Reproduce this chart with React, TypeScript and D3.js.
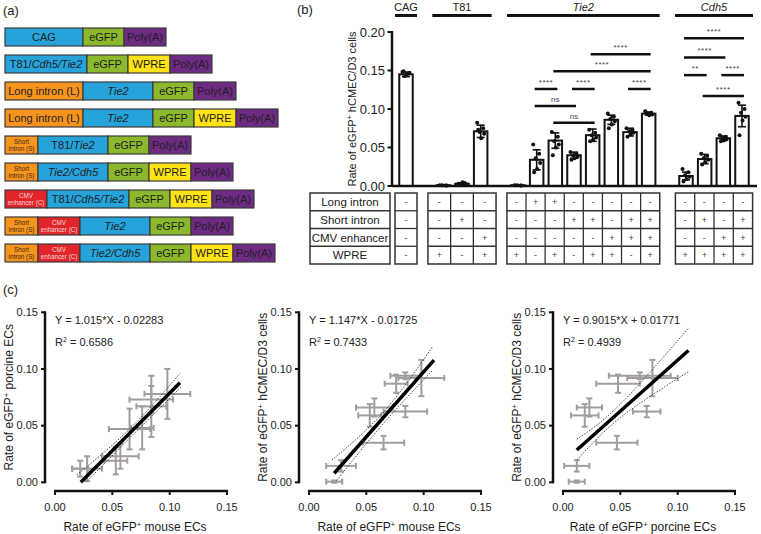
import React from 'react';
import * as d3 from 'd3';

const FONT = '"Liberation Sans", Arial, Helvetica, sans-serif';

// ---------------- Panel (a): constructs ----------------
const constructRows: string[][] = [
  ['CAG', 'eGFP', 'PolyA'],
  ['T81/Cdh5/Tie2', 'eGFP', 'WPRE', 'PolyA'],
  ['Long', 'Tie2', 'eGFP', 'PolyA'],
  ['Long', 'Tie2', 'eGFP', 'WPRE', 'PolyA'],
  ['Short', 'T81/Tie2', 'eGFP', 'PolyA'],
  ['Short', 'Tie2/Cdh5', 'eGFP', 'WPRE', 'PolyA'],
  ['CMV', 'T81/Cdh5/Tie2', 'eGFP', 'WPRE', 'PolyA'],
  ['Short', 'CMV', 'Tie2', 'eGFP', 'PolyA'],
  ['Short', 'CMV', 'Tie2/Cdh5', 'eGFP', 'WPRE', 'PolyA'],
];

const elementWidth: Record<string, number> = {
  CAG: 78, 'T81/Cdh5/Tie2': 82, Long: 78, Tie2: 70, Short: 33, 'T81/Tie2': 70,
  'Tie2/Cdh5': 70, CMV: 42, eGFP: 41, WPRE: 42, PolyA: 42,
};
const elementFill: Record<string, string> = {
  CAG: '#27a3dc', 'T81/Cdh5/Tie2': '#27a3dc', Tie2: '#27a3dc', 'T81/Tie2': '#27a3dc', 'Tie2/Cdh5': '#27a3dc',
  Long: '#f7941e', Short: '#f7941e', CMV: '#e2242b', eGFP: '#8cb82b', WPRE: '#ffe316', PolyA: '#6e2b83',
};

// ---------------- Panel (b): bar chart ----------------
const groupNames = ['CAG', 'T81', 'Tie2', 'Cdh5'];
const groupItalic = [false, false, true, true];
const groupColWidth = [22, 22.7, 19.1, 19.3];
const barGroup = [0, 1, 1, 1, 2, 2, 2, 2, 2, 2, 2, 2, 3, 3, 3, 3];
const barSlot = [0, 2, 3, 4, 6, 7, 8, 9, 10, 11, 12, 13, 15, 16, 17, 18];
const barMean = [0.145, 0.001, 0.003, 0.071, 0.001, 0.034, 0.059, 0.040, 0.066, 0.086, 0.070, 0.094, 0.013, 0.035, 0.062, 0.091];
const barSD = [0.003, 0.0005, 0.001, 0.008, 0.0005, 0.013, 0.010, 0.004, 0.008, 0.006, 0.005, 0.002, 0.005, 0.006, 0.003, 0.014];
const barDots: number[][] = [
  [0.148, 0.146, 0.143, 0.147, 0.144, 0.149],
  [0.001, 0.0005, 0.001, 0.0008],
  [0.003, 0.004, 0.002, 0.003, 0.005, 0.002],
  [0.082, 0.075, 0.070, 0.068, 0.062, 0.073],
  [0.001, 0.0005, 0.001, 0.0008],
  [0.054, 0.042, 0.036, 0.030, 0.022, 0.018],
  [0.070, 0.064, 0.058, 0.054, 0.050, 0.040],
  [0.044, 0.042, 0.040, 0.038, 0.036, 0.034],
  [0.073, 0.069, 0.066, 0.063, 0.060, 0.058],
  [0.094, 0.090, 0.087, 0.084, 0.080, 0.075],
  [0.075, 0.073, 0.071, 0.069, 0.067, 0.064],
  [0.097, 0.095, 0.094, 0.093, 0.092],
  [0.022, 0.018, 0.014, 0.012, 0.009, 0.006],
  [0.042, 0.039, 0.036, 0.034, 0.031, 0.028],
  [0.066, 0.064, 0.062, 0.061, 0.059, 0.058],
  [0.108, 0.100, 0.095, 0.090, 0.085, 0.066],
];
const yTicksB = [0, 0.05, 0.1, 0.15, 0.2];
// significance: [barA, barB, level, label]
const sigA = [8, 6, 5, 7, 10, 5, 6, 12, 12, 12, 14, 13];
const sigB = [11, 11, 6, 8, 11, 7, 8, 15, 14, 13, 15, 15];
const sigLevel = [0.171, 0.149, 0.126, 0.126, 0.126, 0.104, 0.082, 0.192, 0.167, 0.144, 0.144, 0.117];
const sigLabel = ['****', '****', '****', '****', '****', 'ns', 'ns', '****', '****', '**', '****', '****'];

const tableRowLabels = ['Long intron', 'Short intron', 'CMV enhancer', 'WPRE'];
const tableLong = ['-', '-', '-', '-', '-', '+', '+', '-', '-', '-', '-', '-', '-', '-', '-', '-'];
const tableShort = ['-', '-', '+', '-', '-', '-', '-', '+', '+', '-', '+', '+', '-', '+', '-', '+'];
const tableCMV = ['-', '-', '-', '+', '-', '-', '-', '-', '-', '+', '+', '+', '-', '-', '+', '+'];
const tableWPRE = ['-', '+', '-', '+', '+', '-', '+', '-', '+', '+', '-', '+', '+', '+', '+', '+'];
const tableRows = [tableLong, tableShort, tableCMV, tableWPRE];

// ---------------- Panel (c): scatter plots ----------------
const mouseRate = [0.022, 0.028, 0.065, 0.053, 0.057, 0.084, 0.076, 0.084, 0.098];
const mouseErr = [0.007, 0.013, 0.018, 0.010, 0.016, 0.019, 0.010, 0.013, 0.020];
const porcineRate = [0.012, 0.012, 0.047, 0.019, 0.023, 0.073, 0.048, 0.067, 0.078];
const porcineErr = [0.007, 0.011, 0.018, 0.012, 0.011, 0.012, 0.019, 0.027, 0.022];
const humanRate = [0.0006, 0.0145, 0.035, 0.059, 0.066, 0.0624, 0.087, 0.094, 0.092];
const humanErr = [0.001, 0.005, 0.006, 0.010, 0.008, 0.005, 0.008, 0.003, 0.016];

const fitSlope = [1.015, 1.147, 0.9015];
const fitIntercept = [-0.02283, -0.01725, 0.01771];
const fitXStart = [0.0225, 0.022, 0.012];
const fitXEnd = [0.109, 0.109, 0.1094];
const fitEquation = ['Y = 1.015*X - 0.02283', 'Y = 1.147*X - 0.01725', 'Y = 0.9015*X + 0.01771'];
const fitR2 = ['0.6586', '0.7433', '0.4939'];
const bandUpperX = [[0.019, 0.065, 0.109], [0.020, 0.065, 0.108], [0.012, 0.05, 0.1094]];
const bandUpperY = [[0.0065, 0.047, 0.096], [0.0197, 0.062, 0.120], [0.038, 0.069, 0.136]];
const bandLowerX = [[0.0276, 0.065, 0.110], [0.024, 0.065, 0.108], [0.0123, 0.05, 0.1094]];
const bandLowerY = [[0.0006, 0.039, 0.084], [0.0015, 0.052, 0.099], [0.0197, 0.057, 0.0976]];
const scatterXName = ['mouse ECs', 'mouse ECs', 'porcine ECs'];
const scatterYName = ['porcine ECs', 'hCMEC/D3 cells', 'hCMEC/D3 cells'];
const scatterTicks = [0, 0.05, 0.1, 0.15];

function ElementLabel({ id, cx, cy }: { id: string; cx: number; cy: number }) {
  const base = { fontFamily: FONT, textAnchor: 'middle' as const, fill: '#1e1e1e' };
  if (id === 'Short' || id === 'CMV') {
    const l1 = id === 'Short' ? 'Short' : 'CMV';
    const l2 = id === 'Short' ? 'intron (S)' : 'enhancer (C)';
    const col = id === 'Short' ? '#3a2a10' : '#f6d9d9';
    return (
      <text {...base} fill={col} fontSize={6.3} x={cx} y={cy - 1}>
        <tspan x={cx} dy={0}>{l1}</tspan>
        <tspan x={cx} dy={7}>{l2}</tspan>
      </text>
    );
  }
  const y = cy + 4;
  if (id === 'CAG') return <text {...base} fontSize={11} x={cx} y={y}>CAG</text>;
  if (id === 'Long') return <text {...base} fontSize={11} x={cx} y={y}>Long intron (L)</text>;
  if (id === 'eGFP') return <text {...base} fontSize={11} x={cx} y={y}>eGFP</text>;
  if (id === 'WPRE') return <text {...base} fontSize={11} x={cx} y={y}>WPRE</text>;
  if (id === 'PolyA') return <text {...base} fontSize={11} x={cx} y={y}>Poly(A)</text>;
  if (id === 'Tie2' || id === 'Tie2/Cdh5') return <text {...base} fontSize={11} fontStyle="italic" x={cx} y={y}>{id}</text>;
  if (id === 'T81/Cdh5/Tie2')
    return (<text {...base} fontSize={11} x={cx} y={y}>T81/<tspan fontStyle="italic">Cdh5/Tie2</tspan></text>);
  if (id === 'T81/Tie2')
    return (<text {...base} fontSize={11} x={cx} y={y}>T81/<tspan fontStyle="italic">Tie2</tspan></text>);
  return null;
}

function PanelA() {
  const rowY = d3.scaleLinear().domain([0, 8]).range([28, 244]);
  const h = 18;
  return (
    <g>
      <text x={3} y={15} fontFamily={FONT} fontSize={13} fill="#222">(a)</text>
      {constructRows.map((row, ri) => {
        let x = 5;
        const y = rowY(ri);
        return (
          <g key={ri}>
            {row.map((id, ei) => {
              const w = elementWidth[id];
              const x0 = x;
              x += w;
              return (
                <g key={ei}>
                  <rect x={x0} y={y} width={w} height={h} fill={elementFill[id]} stroke="#3b3b3b" strokeWidth={1.2} />
                  <ElementLabel id={id} cx={x0 + w / 2} cy={y + h / 2} />
                </g>
              );
            })}
          </g>
        );
      })}
    </g>
  );
}

function PanelB() {
  const x = d3.scaleLinear().domain([0, 18]).range([406, 742]);
  const y = d3.scaleLinear().domain([0, 0.2]).range([186, 32]);
  const bw = 13.5;
  const jitter = [-3.5, 2.5, -1, 3.5, 0.5, -2.5];
  const groups = groupNames.map((name, gi) => {
    const slots = barSlot.filter((_, i) => barGroup[i] === gi);
    const idx = barSlot.map((_, i) => i).filter((i) => barGroup[i] === gi);
    return { name, gi, slots, idx, x0: x(slots[0]), x1: x(slots[slots.length - 1]) };
  });
  const tTop = 193;
  const rh = 17.75;
  return (
    <g fontFamily={FONT}>
      <text x={297} y={14} fontSize={13} fill="#222">(b)</text>
      {/* group headers */}
      {groups.map((g) => (
        <g key={g.name}>
          <line x1={g.x0 - 11} x2={g.x1 + 11} y1={15.5} y2={15.5} stroke="#111" strokeWidth={3} />
          <text x={(g.x0 + g.x1) / 2} y={10.5} fontSize={11} textAnchor="middle" fill="#222"
            fontStyle={groupItalic[g.gi] ? 'italic' : 'normal'}>{g.name}</text>
        </g>
      ))}
      {/* y axis */}
      <line x1={392} x2={392} y1={y(0.2) - 1} y2={y(0) + 1} stroke="#111" strokeWidth={2.5} />
      {yTicksB.map((t) => (
        <g key={t}>
          <line x1={387.5} x2={392} y1={y(t)} y2={y(t)} stroke="#111" strokeWidth={2} />
          <text x={385} y={y(t)} dy="0.35em" fontSize={13} textAnchor="end" fill="#222">{t.toFixed(2)}</text>
        </g>
      ))}
      <text transform={`translate(356,${(y(0) + y(0.2)) / 2}) rotate(-90)`} fontSize={11} textAnchor="middle" fill="#222">
        Rate of eGFP<tspan dy={-4} fontSize={7}>+</tspan><tspan dy={4}> hCMEC/D3 cells</tspan>
      </text>
      {/* bars */}
      {barMean.map((m, i) => {
        const cx = x(barSlot[i]);
        return (
          <g key={i}>
            <rect x={cx - bw / 2} y={y(m)} width={bw} height={y(0) - y(m)} fill="#fff" stroke="#111" strokeWidth={2} />
            <line x1={cx} x2={cx} y1={y(m + barSD[i])} y2={y(Math.max(0, m - barSD[i]))} stroke="#111" strokeWidth={1.6} />
            <line x1={cx - 4} x2={cx + 4} y1={y(m + barSD[i])} y2={y(m + barSD[i])} stroke="#111" strokeWidth={1.6} />
            <line x1={cx - 4} x2={cx + 4} y1={y(Math.max(0, m - barSD[i]))} y2={y(Math.max(0, m - barSD[i]))} stroke="#111" strokeWidth={1.6} />
            {barDots[i].map((v, j) => (
              <circle key={j} cx={cx + jitter[j % jitter.length]} cy={y(v)} r={2} fill="#111" />
            ))}
          </g>
        );
      })}
      {/* x baseline */}
      <line x1={392} x2={757} y1={y(0)} y2={y(0)} stroke="#111" strokeWidth={2.5} />
      {/* significance */}
      {sigA.map((a, k) => {
        const xa = x(barSlot[a]) - 2;
        const xb = x(barSlot[sigB[k]]) + 2;
        const yy = y(sigLevel[k]);
        return (
          <g key={k}>
            <line x1={xa} x2={xb} y1={yy} y2={yy} stroke="#111" strokeWidth={2.5} />
            <text x={(xa + xb) / 2} y={yy - 4} fontSize={sigLabel[k] === 'ns' ? 8 : 8} textAnchor="middle" fill="#444"
              letterSpacing={sigLabel[k] === 'ns' ? 0 : 0.5}>{sigLabel[k]}</text>
          </g>
        );
      })}
      {/* table */}
      <rect x={310} y={tTop} width={80} height={rh * 4} fill="#fff" stroke="#333" strokeWidth={1.5} />
      {tableRowLabels.map((lab, r) => (
        <g key={lab}>
          {r > 0 && <line x1={310} x2={390} y1={tTop + r * rh} y2={tTop + r * rh} stroke="#333" strokeWidth={1.3} />}
          <text x={350} y={tTop + r * rh + rh / 2} dy="0.36em" fontSize={11.5} textAnchor="middle" fill="#222">{lab}</text>
        </g>
      ))}
      {groups.map((g) => {
        const cw = groupColWidth[g.gi];
        const center = (g.x0 + g.x1) / 2;
        const left = center - (cw * g.idx.length) / 2;
        return (
          <g key={'t' + g.name}>
            <rect x={left} y={tTop} width={cw * g.idx.length} height={rh * 4} fill="#fff" stroke="#333" strokeWidth={1.5} />
            {[1, 2, 3].map((r) => (
              <line key={r} x1={left} x2={left + cw * g.idx.length} y1={tTop + r * rh} y2={tTop + r * rh} stroke="#333" strokeWidth={1.3} />
            ))}
            {g.idx.map((bi, c) => (
              <g key={bi}>
                {c > 0 && <line x1={left + c * cw} x2={left + c * cw} y1={tTop} y2={tTop + 4 * rh} stroke="#333" strokeWidth={1.3} />}
                {tableRows.map((row, r) => (
                  <text key={r} x={left + c * cw + cw / 2} y={tTop + r * rh + rh / 2} dy="0.35em" fontSize={row[bi] === '+' ? 9 : 9}
                    textAnchor="middle" fill="#444">{row[bi]}</text>
                ))}
              </g>
            ))}
          </g>
        );
      })}
    </g>
  );
}

function Scatter({ k }: { k: number }) {
  const axX = 45 + k * 254;
  const x = d3.scaleLinear().domain([0, 0.15]).range([axX + 10, axX + 182]);
  const y = d3.scaleLinear().domain([0, 0.15]).range([482.3, 312.3]);
  const xAxisY = 491;
  const xs = k === 2 ? porcineRate : mouseRate;
  const xe = k === 2 ? porcineErr : mouseErr;
  const ys = k === 0 ? porcineRate : humanRate;
  const ye = k === 0 ? porcineErr : humanErr;
  const grey = '#a29d9d';
  const cap = 3;
  const band = d3.line<[number, number]>().x((d) => x(d[0])).y((d) => y(d[1])).curve(d3.curveNatural);
  const up = bandUpperX[k].map((v, i) => [v, bandUpperY[k][i]] as [number, number]);
  const lo = bandLowerX[k].map((v, i) => [v, bandLowerY[k][i]] as [number, number]);
  const fx0 = fitXStart[k];
  const fx1 = fitXEnd[k];
  return (
    <g fontFamily={FONT}>
      {/* y axis */}
      <line x1={axX} x2={axX} y1={y(0.15) - 1} y2={y(0) + 1} stroke="#111" strokeWidth={2.5} />
      {scatterTicks.map((t) => (
        <g key={'y' + t}>
          <line x1={axX - 4} x2={axX} y1={y(t)} y2={y(t)} stroke="#111" strokeWidth={2} />
          <text x={axX - 7} y={y(t)} dy="0.35em" fontSize={11} textAnchor="end" fill="#222">{t.toFixed(2)}</text>
        </g>
      ))}
      {/* x axis */}
      <line x1={x(0) - 1} x2={x(0.15) + 1} y1={xAxisY} y2={xAxisY} stroke="#111" strokeWidth={2.5} />
      {scatterTicks.map((t) => (
        <g key={'x' + t}>
          <line x1={x(t)} x2={x(t)} y1={xAxisY} y2={xAxisY + 4} stroke="#111" strokeWidth={2} />
          <text x={x(t)} y={511} fontSize={11} textAnchor="middle" fill="#222">{t.toFixed(2)}</text>
        </g>
      ))}
      <text x={(x(0) + x(0.15)) / 2 - 6} y={531} fontSize={12} textAnchor="middle" fill="#222">
        Rate of eGFP<tspan dy={-4.5} fontSize={7.5}>+</tspan><tspan dy={4.5}> {scatterXName[k]}</tspan>
      </text>
      <text transform={`translate(${axX - 32},${(y(0) + y(0.15)) / 2}) rotate(-90)`} fontSize={12} textAnchor="middle" fill="#222">
        Rate of eGFP<tspan dy={-4.5} fontSize={7.5}>+</tspan><tspan dy={4.5}> {scatterYName[k]}</tspan>
      </text>
      {/* error crosses */}
      {xs.map((xv, i) => {
        const px = x(xv);
        const py = y(ys[i]);
        const xl = x(xv - xe[i]);
        const xr = x(xv + xe[i]);
        const yt = y(ys[i] + ye[i]);
        const yb = y(ys[i] - ye[i]);
        return (
          <g key={i} stroke={grey} strokeWidth={2}>
            <line x1={xl} x2={xr} y1={py} y2={py} />
            <line x1={xl} x2={xl} y1={py - cap} y2={py + cap} />
            <line x1={xr} x2={xr} y1={py - cap} y2={py + cap} />
            <line x1={px} x2={px} y1={yt} y2={yb} />
            <line x1={px - cap} x2={px + cap} y1={yt} y2={yt} />
            <line x1={px - cap} x2={px + cap} y1={yb} y2={yb} />
          </g>
        );
      })}
      {/* confidence bands */}
      <path d={band(up) || ''} fill="none" stroke="#333" strokeWidth={0.9} strokeDasharray="1.5,1.5" />
      <path d={band(lo) || ''} fill="none" stroke="#333" strokeWidth={0.9} strokeDasharray="1.5,1.5" />
      {/* fit */}
      <line x1={x(fx0)} y1={y(fitSlope[k] * fx0 + fitIntercept[k])} x2={x(fx1)} y2={y(fitSlope[k] * fx1 + fitIntercept[k])}
        stroke="#000" strokeWidth={3.5} />
      <text x={axX + 10} y={324} fontSize={11} fill="#222">{fitEquation[k]}</text>
      <text x={axX + 10} y={346} fontSize={11} fill="#222">
        R<tspan dy={-4} fontSize={7}>2</tspan><tspan dy={4}> = {fitR2[k]}</tspan>
      </text>
    </g>
  );
}

export default function App() {
  return (
    <svg width={761} height={534} viewBox="0 0 761 534"
      style={{ position: 'absolute', left: 0, top: 0, background: '#fff' }}>
      <rect width={761} height={534} fill="#fff" />
      <PanelA />
      <PanelB />
      <text x={3} y={294} fontFamily={FONT} fontSize={13} fill="#222">(c)</text>
      <Scatter k={0} />
      <Scatter k={1} />
      <Scatter k={2} />
    </svg>
  );
}
